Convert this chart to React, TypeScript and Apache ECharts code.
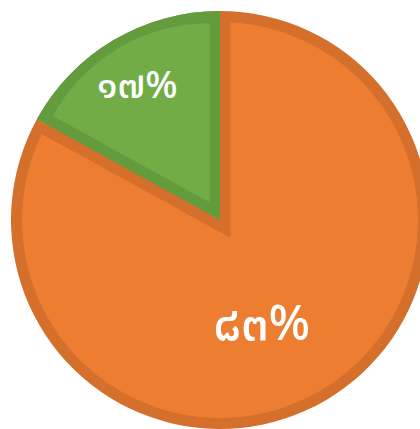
import React, { useEffect, useRef } from 'react';
import * as echarts from 'echarts';

const categories = ['ส่วนที่ ๑', 'ส่วนที่ ๒'];
const values = [83, 17];
const fillColors = ['#EC7D31', '#71AC46'];
const edgeColors = ['#D5702C', '#649B3D'];
const THAI_DIGITS = ['๐', '๑', '๒', '๓', '๔', '๕', '๖', '๗', '๘', '๙'];
const toThai = (s: string) => s.replace(/[0-9]/g, (d) => THAI_DIGITS[Number(d)]);

export default function App() {
  const ref = useRef<HTMLDivElement>(null);

  useEffect(() => {
    const chart = echarts.init(ref.current!, null, { renderer: 'svg' });
    const cx = 220;
    const cy = 220;
    const R = 209;
    const W = 10.5;
    const total = values.reduce((a, b) => a + b, 0);
    // green slice geometry (last slice, clockwise from 12 o'clock)
    const theta = (2 * Math.PI * values[1]) / total;
    const midMath = Math.PI / 2 + theta / 2; // math angle of bisector
    const dir = [Math.cos(midMath), -Math.sin(midMath)]; // screen direction
    const d = W / Math.sin(theta / 2);

    const base = (id: string, center: number[], radius: any, colors: string[], z: number) => ({
      type: 'pie',
      id,
      center,
      radius,
      z,
      silent: true,
      startAngle: 90,
      clockwise: true,
      avoidLabelOverlap: false,
      label: { show: false },
      labelLine: { show: false },
      emphasis: { disabled: true },
      itemStyle: { borderWidth: 0 },
      data: categories.map((name, i) => ({ name, value: values[i], itemStyle: { color: colors[i] } })),
    });

    const T = 'rgba(0,0,0,0)';
    const labelSeries: any = base('labels', [cx, cy], [0, R], [T, T], 10);
    labelSeries.label = {
      show: true,
      position: 'inside',
      color: '#ffffff',
      fontWeight: 500,
      fontFamily: '"Noto Sans Thai", "Noto Sans", Tahoma, sans-serif',
      formatter: (p: any) => toThai(String(Math.round(p.percent))) + '%',
    };
    labelSeries.data[0].label = { fontSize: 49, offset: [-13, 12] };
    labelSeries.data[1].label = { fontSize: 38, offset: [-28, -41] };

    chart.setOption({
      animation: false,
      series: [
        base('edge', [cx, cy], [0, R], edgeColors, 1),
        base('orangeFill', [cx, cy], [0, R - W - 0.5], [fillColors[0], T], 2),
        base('orangeStrip', [cx - d * dir[0], cy - d * dir[1]], [0, R + 9], [T, edgeColors[0]], 3),
        base('greenEdge', [cx, cy], [0, R], [T, edgeColors[1]], 4),
        base('greenFill', [cx + d * dir[0], cy + d * dir[1]], [0, R - 30], [T, fillColors[1]], 5),
        labelSeries,
      ],
    });
    return () => chart.dispose();
  }, []);

  return (
    <div
      ref={ref}
      style={{ position: 'fixed', left: 0, top: 0, width: 420, height: 429, background: '#ffffff' }}
    />
  );
}
